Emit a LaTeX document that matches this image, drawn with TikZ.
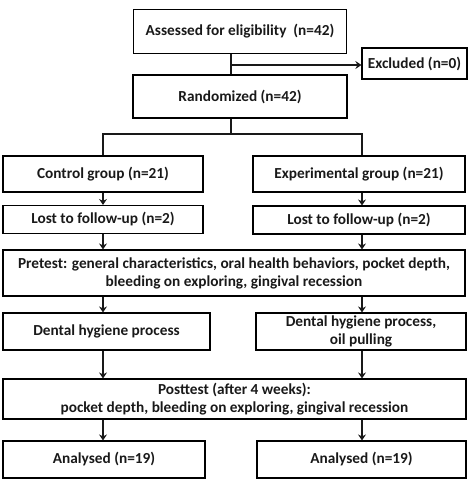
\documentclass[tikz,border=0pt]{standalone}
\usepackage{fontspec}
\setmainfont{Carlito}
\usetikzlibrary{arrows.meta,calc}
\begin{document}
\begin{tikzpicture}[x=1pt,y=-1pt,
  box/.style={draw=black, line width=1.2pt, inner sep=0pt, align=center,
    font=\fontsize{15.3}{18}\selectfont\bfseries, text=black!90},
  conn/.style={line width=1.2pt, draw=black!90},
  arr/.style={conn, -{Stealth[length=6pt,width=8pt,inset=2pt]}}]
\useasboundingbox (0,0) rectangle (473,491);
\node[box, minimum width=213pt, minimum height=44pt] (assess) at (240,31.5) {Assessed for eligibility\ \ (n=42)};
\node[box, minimum width=105pt, minimum height=31pt] (excl) at (414.5,63.5) {Excluded (n=0)};
\node[box, minimum width=214pt, minimum height=43pt] (rand) at (240,96.5) {Randomized (n=42)};
\node[box, minimum width=200pt, minimum height=36pt] (ctrl) at (103,174) {Control group (n=21)};
\node[box, minimum width=212pt, minimum height=36pt] (exp) at (359,174) {Experimental group (n=21)};
\node[box, minimum width=200pt, minimum height=28pt] (lostL) at (103,219.5) {Lost to follow-up (n=2)};
\node[box, minimum width=212pt, minimum height=28pt] (lostR) at (359,220) {Lost to follow-up (n=2)};
\node[box, minimum width=462pt, minimum height=46pt] (pre) at (234,273) {Pretest: general characteristics, oral health behaviors, pocket depth,\\ bleeding on exploring, gingival recession};
\node[box, minimum width=207pt, minimum height=37pt] (dentL) at (106.5,331.5) {Dental hygiene process};
\node[box, minimum width=210pt, minimum height=37pt] (dentR) at (361,331.5) {Dental hygiene process,\\ oil pulling};
\node[box, minimum width=463pt, minimum height=40pt] (post) at (234.5,399) {Posttest (after 4 weeks):\\ pocket depth, bleeding on exploring, gingival recession};
\node[box, minimum width=202pt, minimum height=37pt] (anaL) at (104,459.5) {Analysed (n=19)};
\node[box, minimum width=209pt, minimum height=37pt] (anaR) at (361.5,459.5) {Analysed (n=19)};
\coordinate (cM) at (231,0);
\coordinate (cL) at (103,0);
\coordinate (cR) at (362,0);
\coordinate (split) at (231,134);
\coordinate (exc) at (231,65);
% top
\draw[conn] (assess.south -| cM) -- (rand.north -| cM);
\draw[arr] (exc) -- (exc -| excl.west);
\draw[conn] (rand.south -| cM) -- (split);
\draw[conn] (ctrl.north -| cL) |- (split) -| (exp.north -| cR);
% columns
\draw[arr] (ctrl.south -| cL) -- (lostL.north -| cL);
\draw[arr] (exp.south -| cR) -- (lostR.north -| cR);
\draw[arr] (lostL.south -| cL) -- (pre.north -| cL);
\draw[arr] (lostR.south -| cR) -- (pre.north -| cR);
\draw[arr] (pre.south -| cL) -- (dentL.north -| cL);
\draw[arr] (pre.south -| cR) -- (dentR.north -| cR);
\draw[arr] (dentL.south -| cL) -- (post.north -| cL);
\draw[arr] (dentR.south -| cR) -- (post.north -| cR);
\draw[arr] (post.south -| cL) -- (anaL.north -| cL);
\draw[arr] (post.south -| cR) -- (anaR.north -| cR);
\end{tikzpicture}
\end{document}
